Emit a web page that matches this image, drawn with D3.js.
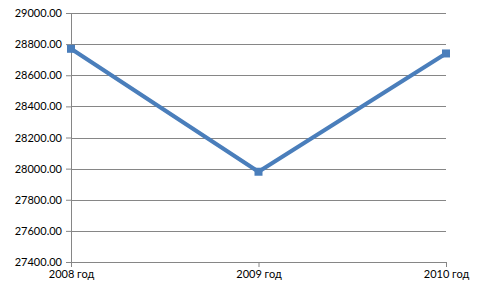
<!DOCTYPE html>
<html>
<head>
<meta charset="utf-8">
<script src="https://cdn.jsdelivr.net/npm/d3@7"></script>
<style>
  body { margin: 0; background: #fff; }
  text { font-family: Lato, "Open Sans", sans-serif; font-size: 11px; fill: #000; }
</style>
</head>
<body>
<div id="chart"></div>
<script>
// Chart data
const years = ["2008 год", "2009 год", "2010 год"];
const values = [28770, 27980, 28740];
const yTicks = [27400, 27600, 27800, 28000, 28200, 28400, 28600, 28800, 29000];

const width = 480,
  height = 288;
const margin = { top: 13, right: 34, bottom: 26, left: 71 };

const svg = d3
  .select("#chart")
  .append("svg")
  .attr("width", width)
  .attr("height", height);

const g = svg
  .append("g")
  .attr("transform", `translate(${margin.left}, ${margin.top})`);

const w = width - margin.left - margin.right,
  h = height - margin.top - margin.bottom;

// X scale (points on tick marks)
const x = d3.scalePoint().domain(years).range([0, w]);

// Y scale
const y = d3.scaleLinear().domain([27400, 29000]).range([h, 0]);

// Gridlines
g.append("g")
  .selectAll("line")
  .data(yTicks)
  .enter()
  .append("line")
  .attr("x1", 0)
  .attr("x2", w)
  .attr("y1", (d) => Math.round(y(d)) + 0.5)
  .attr("y2", (d) => Math.round(y(d)) + 0.5)
  .attr("stroke", "#868686")
  .attr("stroke-width", 1);

// Y axis
const yAxis = g
  .append("g")
  .call(
    d3
      .axisLeft(y)
      .tickValues(yTicks)
      .tickFormat((d) => d3.format(".2f")(d))
      .tickSize(5)
      .tickPadding(4)
  );
yAxis.select(".domain").attr("stroke", "#868686");
yAxis.selectAll(".tick line").attr("stroke", "#868686");
yAxis.selectAll("text").attr("font-size", "11px").attr("fill", "#000");

// X axis
const xAxis = g
  .append("g")
  .attr("transform", `translate(0, ${h})`)
  .call(d3.axisBottom(x).tickSize(5).tickSizeOuter(0).tickPadding(3));
xAxis.select(".domain").attr("stroke", "#868686");
xAxis.selectAll(".tick line").attr("stroke", "#868686");
xAxis.selectAll("text").attr("font-size", "11px").attr("fill", "#000");

// Line
const line = d3
  .line()
  .x((d, i) => x(years[i]))
  .y((d) => y(d));

g.append("path")
  .datum(values)
  .attr("d", line)
  .attr("fill", "none")
  .attr("stroke", "#4a7ebb")
  .attr("stroke-width", 4)
  .attr("stroke-linejoin", "round");

// Square markers
g.selectAll(".marker")
  .data(values)
  .enter()
  .append("rect")
  .attr("class", "marker")
  .attr("x", (d, i) => x(years[i]) - 4)
  .attr("y", (d) => y(d) - 4)
  .attr("width", 8)
  .attr("height", 8)
  .attr("fill", "#4a7ebb");
</script>
</body>
</html>
